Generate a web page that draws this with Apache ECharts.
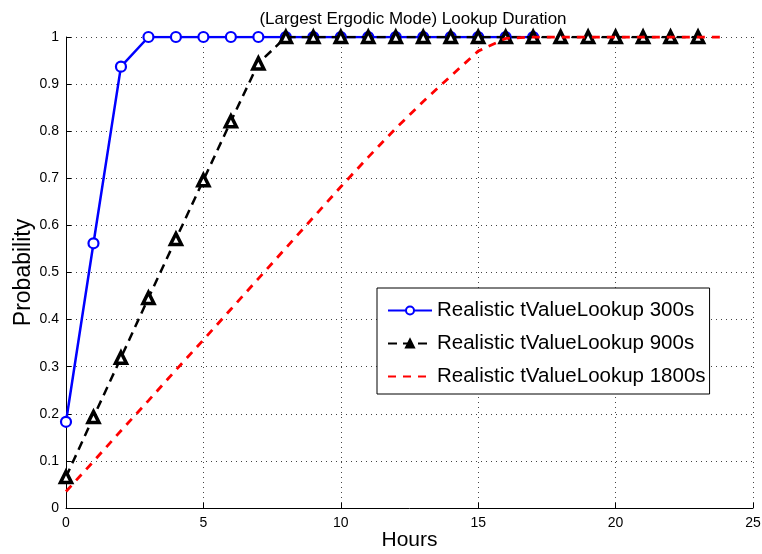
<!DOCTYPE html>
<html>
<head>
<meta charset="utf-8">
<script src="https://cdn.jsdelivr.net/npm/echarts@6/dist/echarts.min.js"></script>
<style>
  html, body { margin: 0; padding: 0; background: #fff; }
  #chart { width: 762px; height: 554px; }
</style>
</head>
<body>
<div id="chart"></div>
<script>
// Lookup duration CDFs (probability of completion vs. elapsed hours)
const hours300 = [0,1,2,3,4,5,6,7,8,9,10,11,12,13,14,15,16,17];
const prob300  = [0.183,0.562,0.937,1,1,1,1,1,1,1,1,1,1,1,1,1,1,1];

const hours900 = [0,1,2,3,4,5,6,7,8,9,10,11,12,13,14,15,16,17,18,19,20,21,22,23];
const prob900  = [0.066,0.193,0.319,0.446,0.571,0.696,0.821,0.944,1,1,1,1,1,1,1,1,1,1,1,1,1,1,1,1];

const hours1800 = [0,1,2,3,4,5,6,7,8,9,10,11,12,13,14,15,16,17,18,19,20,21,22,23,24];
const prob1800  = [0.035,0.099,0.164,0.228,0.293,0.357,0.422,0.487,0.552,0.617,0.682,0.745,0.806,0.863,0.917,0.970,0.997,1,1,1,1,1,1,1,1];

const seriesNames = [
  'Realistic tValueLookup 300s',
  'Realistic tValueLookup 900s',
  'Realistic tValueLookup 1800s'
];
const xTicks = { min: 0, max: 25, interval: 5 };
const yTicks = { min: 0, max: 1, interval: 0.1 };

const pairs = (xs, ys) => xs.map((x, i) => [x, ys[i]]);

const FONT = 'Liberation Sans, Arial, Helvetica, sans-serif';
const gridLine = { show: true, lineStyle: { color: '#444', type: [1, 4], width: 1 } };

const chart = echarts.init(document.getElementById('chart'), null, { renderer: 'canvas' });
chart.setOption({
  animation: false,
  backgroundColor: '#fff',
  title: {
    text: '(Largest Ergodic Mode) Lookup Duration',
    left: 408, top: 6, textAlign: 'center',
    textStyle: { fontFamily: FONT, fontSize: 17, fontWeight: 'normal', color: '#000' }
  },
  grid: { left: 66, right: 9, top: 37, bottom: 46, outerBoundsMode: 'none', containLabel: false },
  xAxis: {
    type: 'value', min: xTicks.min, max: xTicks.max, interval: xTicks.interval,
    name: 'Hours', nameLocation: 'middle', nameGap: 22, nameMoveOverlap: false,
    nameTextStyle: { fontFamily: FONT, fontSize: 21, color: '#000' },
    axisLine: { show: true, onZero: false, lineStyle: { color: '#000', width: 1 } },
    axisTick: { show: true, inside: true, length: 5, lineStyle: { color: '#000' } },
    axisLabel: { fontFamily: FONT, fontSize: 14, color: '#000', margin: 8 },
    splitLine: gridLine
  },
  yAxis: {
    type: 'value', min: yTicks.min, max: yTicks.max, interval: yTicks.interval,
    name: 'Probability', nameLocation: 'middle', nameGap: 31, nameMoveOverlap: false,
    nameTextStyle: { fontFamily: FONT, fontSize: 23, color: '#000' },
    axisLine: { show: true, lineStyle: { color: '#000', width: 1 } },
    axisTick: { show: true, inside: true, length: 5, lineStyle: { color: '#000' } },
    axisLabel: { fontFamily: FONT, fontSize: 14, color: '#000', margin: 7 },
    splitLine: gridLine
  },
  legend: {
    orient: 'vertical',
    left: 377, top: 288,
    padding: [12, 4, 7, 10],
    itemGap: 12,
    itemWidth: 44, itemHeight: 10,
    backgroundColor: '#fff',
    borderColor: '#000', borderWidth: 1, borderRadius: 0,
    textStyle: { fontFamily: FONT, fontSize: 20.5, color: '#000', lineHeight: 20 },
    data: [
      { name: seriesNames[0] },
      { name: seriesNames[1], itemStyle: { color: '#000', borderColor: '#000' } },
      { name: seriesNames[2], itemStyle: { opacity: 0 } }
    ]
  },
  series: [
    {
      name: seriesNames[0], type: 'line', z: 2,
      data: pairs(hours300, prob300),
      symbol: 'circle', symbolSize: 10,
      lineStyle: { color: '#0000ff', width: 2.5 },
      itemStyle: { color: '#fff', borderColor: '#0000ff', borderWidth: 2.2 }
    },
    {
      name: seriesNames[1], type: 'line', z: 3,
      data: pairs(hours900, prob900),
      symbol: 'triangle', symbolSize: 11,
      lineStyle: { color: '#000', width: 2.5, type: [9, 6] },
      itemStyle: { color: '#fff', borderColor: '#000', borderWidth: 3.5 }
    },
    {
      name: seriesNames[2], type: 'line', z: 4,
      data: pairs(hours1800, prob1800),
      symbol: 'none', showSymbol: false,
      lineStyle: { color: '#ff0000', width: 2.8, type: [8, 7] },
      itemStyle: { color: '#ff0000' }
    }
  ]
});
</script>
</body>
</html>
